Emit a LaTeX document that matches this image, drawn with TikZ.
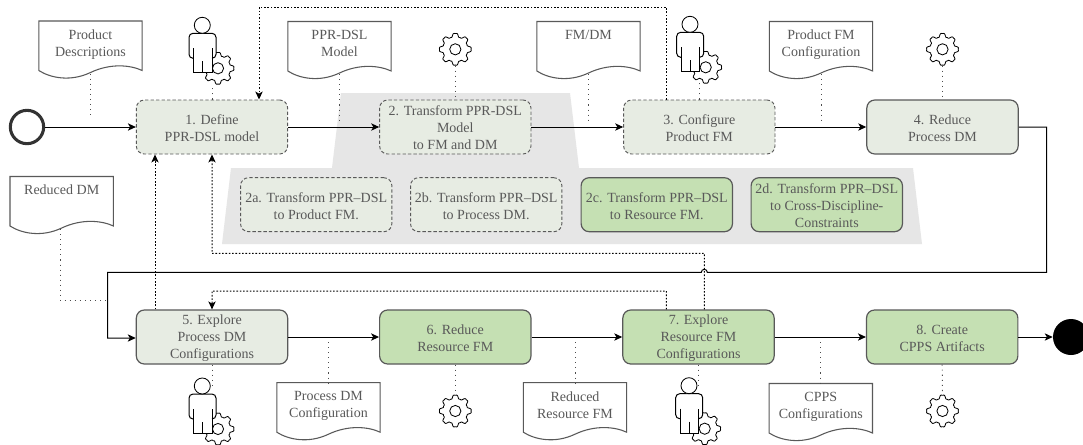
\documentclass[tikz,border=0pt]{standalone}
\usepackage{fontspec}
\setmainfont{Liberation Serif}
\usetikzlibrary{arrows.meta,calc}
\definecolor{txt}{HTML}{595959}
\definecolor{edgecol}{HTML}{595959}
\definecolor{palegreen}{HTML}{E7ECE3}
\definecolor{midgreen}{HTML}{C5E0B3}
\definecolor{bandgray}{HTML}{E6E6E6}
\newcommand{\firstline}{\rule{0pt}{9pt}}
\tikzset{
  every node/.style={font=\fontsize{10.5pt}{12.75pt}\selectfont,text=txt,align=center},
  procbox/.style={rectangle,rounded corners=6pt,minimum width=113.5pt,minimum height=40.5pt,inner sep=0pt,line width=.9pt,draw=edgecol},
  palebox/.style={procbox,fill=palegreen},
  greenbox/.style={procbox,fill=midgreen},
  dashbox/.style={palebox,line width=.7pt,dash pattern=on 2.5pt off 1.6pt},
  flow/.style={draw=black,line width=.75pt,-{Stealth[length=6pt,width=5.5pt,inset=1.6pt]}},
  feedback/.style={draw=black,line width=.75pt,dash pattern=on 1.2pt off 1.3pt,-{Stealth[length=6pt,width=5.5pt,inset=1.6pt]}},
  note/.style={draw=black!70,line width=.7pt,dash pattern=on .8pt off 3pt},
  docframe/.style={rectangle,minimum width=77.5pt,minimum height=39pt,inner sep=0pt,anchor=north},
  docline/.style={draw=edgecol,line width=.8pt,fill=white},
  doctext/.style={anchor=north,inner sep=0pt},
  iconframe/.style={circle,minimum size=24pt,inner sep=0pt},
  iconline/.style={draw=black,line width=.62pt,fill=white},
  personframe/.style={rectangle,minimum width=33pt,minimum height=50pt,inner sep=0pt},
}
\newcommand{\docat}[4]{%
  \node[docframe] (#1) at (#2,#3) {};
  \draw[docline,shift={(#2,#3)}] (-51.7,0) -- (51.7,0) -- (51.7,49.5)
    .. controls (40,44) and (20,42) .. (0,51.5)
    .. controls (-20,61) and (-40,57) .. (-51.7,49.5) -- cycle;
  \node[doctext] (#1t) at (#2,#3+8.5) {#4};
}
\newcommand{\gearshape}[2]{%
  \draw[iconline,shift={(#1,#2)}] plot[domain=0:360,samples=193,variable=\t]
    ({(14.2+2.0*(cos(8*\t)-.22*cos(24*\t)))*sin(\t)},{(14.2+2.0*(cos(8*\t)-.22*cos(24*\t)))*cos(\t)}) -- cycle;
  \draw[iconline,shift={(#1,#2)}] (0,0) circle (5.6);
}
\newcommand{\gearat}[3]{%
  \node[iconframe] (#1) at (#2,#3) {};
  \gearshape{#2}{#3}
}
\newcommand{\personat}[3]{%
  \node[personframe] (#1) at ($(#2,#3)+(8.7,25.5)$) {};
  \gearshape{#2+15.7}{#3+43}
  \begin{scope}[shift={(#2,#3)}]
    \fill[white] (-13.3,33) -- (-13.3,12) -- (-9,8) -- (9.7,8) -- (13.7,12) -- (13.7,33) -- (9.7,33) -- (9.7,47.4) -- (-9,47.4) -- (-9,33) -- cycle;
    \draw[draw=black,line width=.75pt,rounded corners=3pt] (-9,33) -- (-13.3,33) -- (-13.3,8) -- (13.7,8) -- (13.7,33) -- (9.7,33);
    \draw[draw=black,line width=.75pt] (-9,23) -- (-9,47.4) -- (9.7,47.4) -- (9.7,23) (0,36) -- (0,47.4);
    \draw[iconline] (0,0) circle (8);
  \end{scope}
}
\begin{document}
\begin{tikzpicture}[x=.75pt,y=-.75pt]
\path[use as bounding box,clip] (0,0) rectangle (1083,444);
\fill[white] (0,0) rectangle (1083,444);
% grey band
\fill[bandgray] (341,93) -- (570,93) -- (579,168) -- (913,168) -- (922,244) -- (222,244) -- (231,168) -- (332,168) -- cycle;

% documents
\docat{d1}{90.5}{21}{Product\\Descriptions}
\docat{d2}{339.5}{21.5}{PPR-DSL\\Model}
\docat{d3}{588.5}{21.5}{FM/DM}
\docat{d4}{821}{21.5}{Product FM\\Configuration}
\docat{dr}{61.7}{176.5}{Reduced DM}
\docat{d5}{328.5}{382.7}{Process DM\\Configuration}
\docat{d6}{575}{382.7}{Reduced\\Resource FM}
\docat{d8}{820.8}{383.5}{CPPS\\Configurations}

% process boxes
\node[dashbox] (b1) at (212,127) {\firstline 1. Define\\PPR-DSL model};
\node[dashbox] (b2) at (455.3,127) {\firstline 2. Transform PPR-DSL\\Model\\to FM and DM};
\node[dashbox] (b3) at (699.3,127) {\firstline 3. Configure\\Product FM};
\node[palebox] (b4) at (942.5,127) {\firstline 4. Reduce\\Process DM};
\node[palebox] (b5) at (212,337) {\firstline 5. Explore\\Process DM\\Configurations};
\node[greenbox] (b6) at (455.3,337) {\firstline 6. Reduce\\Resource FM};
\node[greenbox] (b7) at (698.5,337) {\firstline 7. Explore\\Resource FM\\Configurations};
\node[greenbox] (b8) at (942.2,337) {\firstline 8. Create\\CPPS Artifacts};
\node[dashbox] (s2a) at (316.2,204.7) {\firstline 2a. Transform PPR--DSL\\to Product FM.};
\node[dashbox] (s2b) at (486.2,204.7) {\firstline 2b. Transform PPR--DSL\\to Process DM.};
\node[greenbox] (s2c) at (656.8,204.7) {\firstline 2c. Transform PPR--DSL\\to Resource FM.};
\node[greenbox] (s2d) at (826.8,204.7) {\firstline 2d. Transform PPR--DSL\\to Cross-Discipline-\\Constraints};

% start and end events
\node[circle,draw=black!80,line width=2.3pt,minimum size=25pt,inner sep=0pt] (start) at (27,127) {};
\node[circle,fill=black,minimum size=27pt,inner sep=0pt] (end) at (1071,337) {};

% icons
\personat{p1}{202.3}{25.3}
\personat{p3}{690}{24.3}
\personat{p5}{202.3}{386}
\personat{p7}{689}{385.7}
\gearat{g2}{455.3}{49.3}
\gearat{g4}{942.5}{49.3}
\gearat{g6}{455.3}{411}
\gearat{g8}{942.5}{411}

% free ends of the annotation lines
\coordinate (e1) at (90.5,118);
\coordinate (e2) at (339.5,120);
\coordinate (e3) at (588.5,120);
\coordinate (e4) at (821,120);
\coordinate (e5) at (328.5,337);
\coordinate (e6) at (575,337);
\coordinate (e8) at (820.8,337);
\coordinate (er1) at (60,300.5);
\coordinate (er2) at (107,300.5);

% annotation lines
\draw[note] (d1.south) -- (e1);
\draw[note] (d2.south) -- (e2);
\draw[note] (d3.south) -- (e3);
\draw[note] (d4.south) -- (e4);
\draw[note] (e5) -- (d5.north);
\draw[note] (e6) -- (d6.north);
\draw[note] (e8) -- (d8.north);
\draw[note] (er1 |- dr.south) -- (er1) -- (er2);
\draw[note] (b1.north) -- (b1.north |- p1.south);
\draw[note] (b3.north) -- (b3.north |- p3.south);
\draw[note] (b5.south) -- ([yshift=-9pt]p5.north -| b5.south);
\draw[note] (b7.south) -- ([yshift=-9pt]p7.north -| b7.south);
\draw[note] (g2.south) -- (b2.north);
\draw[note] (g4.south) -- (b4.north);
\draw[note] (b6.south) -- (g6.north);
\draw[note] (b8.south) -- (g8.north);

% feedback
\draw[feedback] ([xshift=-24.75pt]b3.north) -- (666.3,7) -- (259,7) -- ([xshift=35.25pt]b1.north);
\draw[feedback] ([xshift=4.35pt]b7.north) -- (704.3,253.3) -- (212,253.3) -- (b1.south);
\draw[feedback] ([xshift=-42.75pt]b5.north) -- ([xshift=-42.75pt]b1.south);
\draw[feedback] ([xshift=-24.15pt]b7.north) -- (666.3,291) -- (212,291) -- (b5.north);

% main flow
\draw[flow] (start) -- (b1);
\draw[flow] (b1) -- (b2);
\draw[flow] (b2) -- (b3);
\draw[flow] (b3) -- (b4);
\draw[flow] (b4.east) -- (1046.7,127) -- (1046.7,272.3) -- (707.3,272.3) arc (0:-180:3) -- (107.7,272.3) -- (107.7,338) -- (b5.west |- 0,338);
\draw[flow] (b5) -- (b6);
\draw[flow] (b6) -- (b7);
\draw[flow] (b7) -- (b8);
\draw[flow] (b8) -- (end);
\end{tikzpicture}
\end{document}
